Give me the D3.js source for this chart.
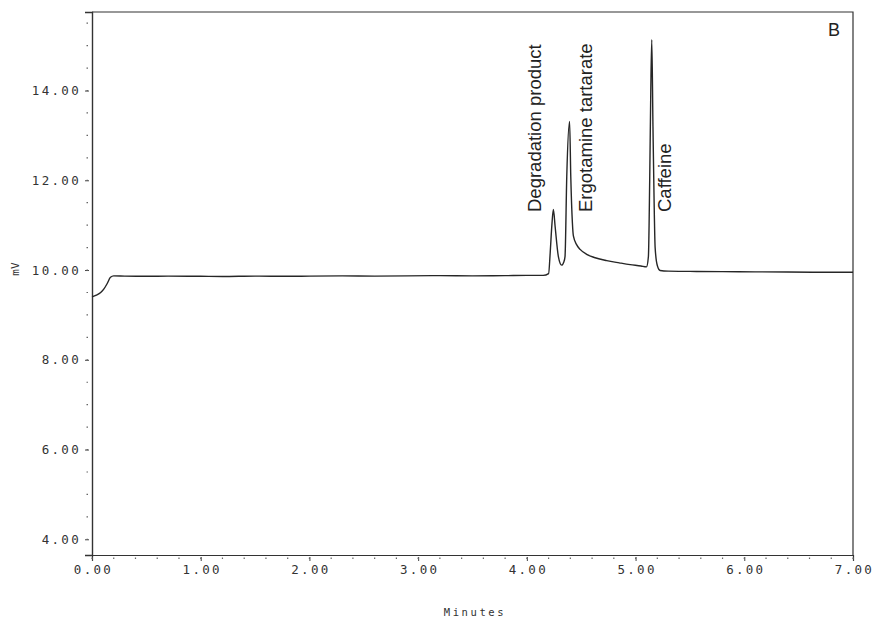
<!doctype html>
<html>
<head>
  <meta charset="utf-8">
  <title>Chromatogram B</title>
  <script src="https://d3js.org/d3.v7.min.js"></script>
  <style>
    body { margin:0; background:#fff; }
    svg { display:block; }
    .tick text, .axlabel { font-family:"DejaVu Sans Mono", monospace; fill:#333; }
    .peak { font-family:"Liberation Sans", Arial, sans-serif; fill:#222; }
  </style>
</head>
<body>
  <svg id="chart" width="876" height="620"></svg>
  <script>
    // detector trace (minutes, mV)
    const times = [0.00, 0.04, 0.08, 0.11, 0.14, 0.17, 0.20, 0.30, 0.50, 0.70, 1.00, 1.20, 1.50, 1.80,
                   2.00, 2.30, 2.60, 2.90, 3.20, 3.50, 3.80, 4.00, 4.15, 4.20, 4.215, 4.23, 4.244, 4.26,
                   4.29, 4.32, 4.34, 4.351, 4.367, 4.393, 4.404, 4.419, 4.428, 4.459, 4.49, 4.55, 4.62,
                   4.735, 4.85, 4.95, 5.05, 5.10, 5.118, 5.13, 5.14, 5.149, 5.16, 5.17, 5.18, 5.20, 5.226,
                   5.30, 5.50, 5.80, 6.10, 6.40, 6.70, 7.00];
    const mv    = [9.40, 9.44, 9.50, 9.58, 9.70, 9.84, 9.87, 9.865, 9.86, 9.865, 9.86, 9.855, 9.865, 9.86,
                   9.865, 9.87, 9.865, 9.87, 9.875, 9.87, 9.875, 9.88, 9.88, 9.92, 10.40, 11.00, 11.35, 10.97,
                   10.30, 10.11, 10.18, 10.30, 12.08, 13.31, 12.08, 11.05, 10.76, 10.56, 10.46, 10.35, 10.28,
                   10.21, 10.16, 10.12, 10.09, 10.07, 10.30, 12.00, 14.00, 15.13, 13.20, 11.60, 10.50, 10.10, 9.99,
                   9.975, 9.97, 9.965, 9.96, 9.955, 9.95, 9.95];

    const xTicks = [0, 1, 2, 3, 4, 5, 6, 7];
    const yTicks = [4, 6, 8, 10, 12, 14];
    const xMinor = d3.range(0, 7.001, 0.2);
    const yMinor = d3.range(4, 15.51, 0.5);

    const peakNames = ["Degradation product", "Ergotamine tartarate", "Caffeine"];
    const peakTimes = [4.13, 4.60, 5.33];

    const svg = d3.select("#chart");
    const mLeft = 92, mRight = 853, mTop = 12, mBottom = 555;

    const x = d3.scaleLinear().domain([0, 7]).range([mLeft, mRight]);
    const y = d3.scaleLinear().domain([3.65, 15.75]).range([mBottom, mTop]);

    // frame (top and right)
    svg.append("path")
      .attr("d", `M${mLeft},${mTop}H${mRight}V${mBottom}`)
      .attr("fill", "none").attr("stroke", "#333").attr("stroke-width", 1.2);

    // x axis
    const gx = svg.append("g")
      .attr("transform", `translate(0,${mBottom})`)
      .call(d3.axisBottom(x).tickValues(xTicks).tickFormat(d3.format(".2f")).tickSizeOuter(0).tickSize(6).tickPadding(4));
    gx.select(".domain").attr("stroke", "#333").attr("stroke-width", 1.2);
    gx.selectAll(".tick line").attr("y1", 2).attr("stroke", "#444");
    gx.selectAll(".tick text").attr("font-size", 12.5).attr("letter-spacing", 2.3).attr("dx", 1);

    svg.append("g").selectAll("line").data(xMinor).join("line")
      .attr("x1", d => x(d)).attr("x2", d => x(d))
      .attr("y1", mBottom + 2.5).attr("y2", mBottom + 4)
      .attr("stroke", "#666").attr("stroke-width", 1.2);

    // y axis
    const gy = svg.append("g")
      .attr("transform", `translate(${mLeft},0)`)
      .call(d3.axisLeft(y).tickValues(yTicks).tickFormat(d3.format(".2f")).tickSizeOuter(0).tickSize(7).tickPadding(4));
    gy.select(".domain").attr("stroke", "#333").attr("stroke-width", 1.4);
    gy.selectAll(".tick line").attr("x1", -3).attr("stroke", "#444");
    gy.selectAll(".tick text").attr("font-size", 12.5).attr("letter-spacing", 2.3);

    svg.append("g").selectAll("line").data(yMinor).join("line")
      .attr("x1", mLeft - 5.5).attr("x2", mLeft - 4)
      .attr("y1", d => y(d)).attr("y2", d => y(d))
      .attr("stroke", "#666").attr("stroke-width", 1.2);

    // axis titles
    svg.append("text").attr("class", "axlabel")
      .attr("transform", "translate(19,269) rotate(-90)")
      .attr("text-anchor", "middle").attr("font-size", 11)
      .text("mV");
    svg.append("text").attr("class", "axlabel")
      .attr("x", 475).attr("y", 616)
      .attr("text-anchor", "middle").attr("font-size", 10.5).attr("letter-spacing", 2.6)
      .text("Minutes");

    // trace
    const line = d3.line()
      .x((d, i) => x(times[i]))
      .y(d => y(d))
      .curve(d3.curveMonotoneX);
    svg.append("path")
      .datum(mv)
      .attr("d", line)
      .attr("fill", "none").attr("stroke", "#262626").attr("stroke-width", 1.4);

    // peak labels, rotated
    svg.append("g").selectAll("text").data(peakNames).join("text")
      .attr("class", "peak")
      .attr("transform", (d, i) => `translate(${x(peakTimes[i])},212) rotate(-90)`)
      .attr("font-size", 18.5)
      .text(d => d);

    svg.append("text").attr("class", "peak")
      .attr("x", 828).attr("y", 36).attr("font-size", 18)
      .text("B");
  </script>
</body>
</html>
